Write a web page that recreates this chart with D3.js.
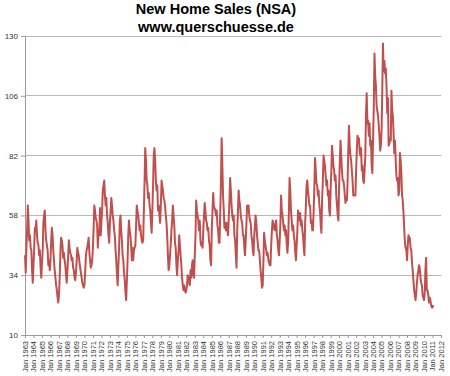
<!DOCTYPE html>
<html><head><meta charset="utf-8">
<script src="https://cdn.jsdelivr.net/npm/d3@7"></script>
<style>
html,body{margin:0;padding:0;background:#fff;}
svg{display:block;font-family:"Liberation Sans",Arial,sans-serif;}
</style></head>
<body><svg id="c" width="450" height="376"></svg>
<script>
const titleLines = ["New Home Sales (NSA)", "www.querschuesse.de"];
const startYear = 1963;
const endYear = 2012;
const yTicks = [10, 34, 58, 82, 106, 130];
// monthly values (thousands), one row per year starting Jan 1963
const salesByYear = [
 [42,35,44,52,62,56,48,50,45,44,36,31], //1963
 [38,45,53,52,56,50,47,46,42,44,37,33], //1964
 [39,44,55,58,60,52,48,46,44,38,40,36], //1965
 [40,48,53,50,44,40,36,33,30,28,25,23], //1966
 [26,33,42,49,48,46,41,43,40,38,34,31], //1967
 [36,42,48,45,43,42,40,41,37,36,33,32], //1968
 [35,40,45,43,42,39,37,35,33,31,30,29], //1969
 [30,35,41,44,45,47,49,43,40,37,38,40], //1970
 [45,53,62,60,57,56,54,45,52,50,61,50], //1971
 [55,60,68,70,72,66,62,65,58,55,50,47], //1972
 [55,60,65,62,58,56,52,50,44,40,34,30], //1973
 [38,45,55,58,52,48,42,40,35,32,27,24], //1974
 [32,40,50,56,52,50,46,40,45,40,44,45], //1975
 [46,54,62,60,58,55,52,54,50,48,47,48], //1976
 [60,72,85,80,72,70,65,67,62,60,55,51], //1977
 [60,70,82,85,80,72,68,70,60,62,58,55], //1978
 [62,72,70,68,65,64,62,58,55,50,42,36], //1979
 [38,42,46,52,56,62,58,54,47,45,38,34], //1980
 [40,44,50,46,42,38,33,30,28,30,28,27], //1981
 [28,30,34,33,31,30,36,33,38,40,34,33], //1982
 [42,50,64,60,58,56,52,56,48,46,47,45], //1983
 [52,58,63,60,56,55,52,53,48,46,40,38], //1984
 [52,60,67,62,61,60,58,60,54,52,47,47], //1985
 [60,72,89,78,66,60,53,55,52,55,52,50], //1986
 [57,64,73,68,62,58,56,58,50,48,42,37], //1987
 [52,60,68,64,62,58,56,55,50,50,45,42], //1988
 [48,55,62,60,62,58,56,55,50,48,44,42], //1989
 [50,54,58,55,50,47,44,44,40,36,33,29], //1990
 [30,40,51,48,46,44,42,43,40,39,38,38], //1991
 [46,52,56,55,53,52,54,56,50,48,44,42], //1992
 [48,55,66,60,58,55,52,54,50,52,46,43], //1993
 [48,60,73,68,60,56,52,54,50,48,43,40], //1994
 [46,52,60,58,56,59,54,56,52,50,45,42], //1995
 [55,62,70,72,68,65,62,62,55,56,52,52], //1996
 [60,70,81,76,71,70,66,68,62,60,54,51], //1997
 [65,72,82,80,78,74,70,72,66,68,60,58], //1998
 [68,76,86,82,78,76,72,74,66,62,58,56], //1999
 [70,80,88,82,76,72,72,70,66,63,65,64], //2000
 [72,85,94,86,82,80,76,72,66,66,66,66], //2001
 [76,84,90,88,89,84,82,85,76,78,72,71], //2002
 [76,82,98,107,95,96,90,95,86,88,78,75], //2003
 [89,102,123,114,110,102,100,98,94,90,84,86], //2004
 [92,109,127,116,120,115,117,110,99,105,86,87], //2005
 [89,88,108,100,98,91,83,88,80,74,72,73], //2006
 [66,68,83,80,75,66,64,59,53,47,45,44], //2007
 [40,46,50,49,49,45,44,39,36,32,28,26], //2008
 [24,27,31,34,36,38,37,33,31,30,26,25], //2009
 [24,27,36,41,28,28,26,23,25,24,22,21], //2010
 [21,22] //2011
];

const data = [];
salesByYear.forEach((row, i) => row.forEach((v, m) => data.push({date: new Date(startYear + i, m, 1), value: v})));

const svg = d3.select("#c");
const L = 25, R = 441, T = 36, B = 335;
const x = d3.scaleTime().domain([new Date(startYear,0,1), new Date(endYear,0,1)]).range([L, R]);
const y = d3.scaleLinear().domain([10,130]).range([B, T]);

// title
svg.selectAll("text.title").data(titleLines).enter().append("text")
  .attr("class","title")
  .attr("x", 216).attr("y", (d,i) => i === 0 ? 14 : 32)
  .attr("text-anchor","middle")
  .style("font-family","'Liberation Sans',Arial,sans-serif")
  .style("font-weight","bold").style("font-size","14.5px").attr("fill","#000")
  .text(d => d);

// gridlines
svg.append("g").selectAll("line").data(yTicks.filter(t => t !== 10)).enter().append("line")
  .attr("x1", L).attr("x2", R).attr("y1", d => y(d)).attr("y2", d => y(d))
  .attr("stroke","#b8b8b8").attr("stroke-width",1).attr("shape-rendering","crispEdges");

// y axis
const yAxis = d3.axisLeft(y).tickValues(yTicks).tickSize(4).tickPadding(3);
const gy = svg.append("g").attr("transform",`translate(${L},0)`).call(yAxis);
gy.select(".domain").attr("stroke","#9a9a9a");
gy.selectAll(".tick line").attr("stroke","#9a9a9a");
gy.selectAll("text").attr("fill","#333").style("font-size","8px").style("font-family","'Liberation Sans',Arial,sans-serif");

// x axis
const xAxis = d3.axisBottom(x).ticks(d3.timeYear.every(1)).tickFormat(d3.timeFormat("Jan %Y")).tickSize(3).tickPadding(4);
const gx = svg.append("g").attr("transform",`translate(0,${B})`).call(xAxis);
gx.select(".domain").attr("stroke","#9a9a9a");
gx.selectAll(".tick line").attr("stroke","#9a9a9a");
gx.selectAll("text")
  .attr("fill","#333").style("font-size","7.5px").style("font-family","'Liberation Sans',Arial,sans-serif")
  .attr("text-anchor","end").attr("transform","rotate(-90)")
  .attr("x", -6).attr("y", 0).attr("dy","0.32em");

// line
const line = d3.line().x(d => x(d.date)).y(d => y(d.value));
svg.append("path").datum(data).attr("d", line)
  .attr("fill","none").attr("stroke","#c0504d").attr("stroke-width",2).attr("stroke-linejoin","round");
</script></body></html>
